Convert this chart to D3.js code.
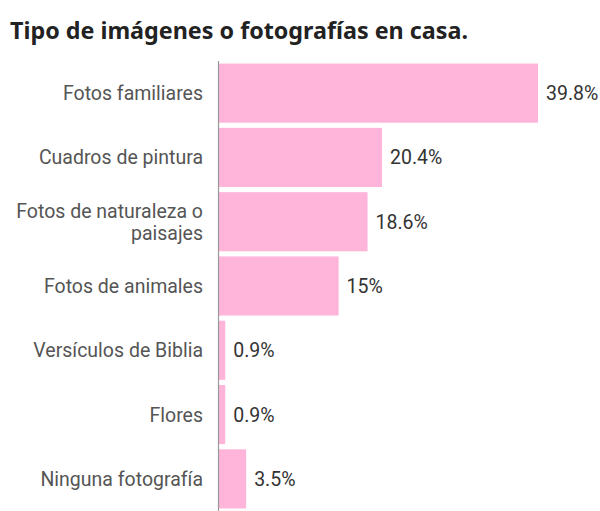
<!DOCTYPE html>
<html><head><meta charset="utf-8">
<script src="https://cdn.jsdelivr.net/npm/d3@7"></script>
<style>body{margin:0;background:#fff;}svg{display:block;}</style>
</head><body>
<svg id="c" width="600" height="511"></svg>
<script>
const categories = ["Fotos familiares","Cuadros de pintura","Fotos de naturaleza o paisajes","Fotos de animales","Versículos de Biblia","Flores","Ninguna fotografía"];
const values = [39.8,20.4,18.6,15,0.9,0.9,3.5];
const valueLabels = ["39.8%","20.4%","18.6%","15%","0.9%","0.9%","3.5%"];
const labelLines = [["Fotos familiares"],["Cuadros de pintura"],["Fotos de naturaleza o","paisajes"],["Fotos de animales"],["Versículos de Biblia"],["Flores"],["Ninguna fotografía"]];

const svg = d3.select("#c");
svg.append("text").attr("x",10).attr("y",39)
  .style("font-family","'Noto Sans', Inter, sans-serif").style("font-weight","700")
  .style("font-size","23.3px").style("fill","#222")
  .text("Tipo de imágenes o fotografías en casa.");

const x = d3.scaleLinear().domain([0,39.8]).range([218,538]);
const y = d3.scaleBand().domain(categories).range([61,511]).paddingInner(0.08).paddingOuter(0.04);

svg.selectAll("rect.bar").data(categories).join("rect").attr("class","bar")
  .attr("x",x(0)).attr("y",d=>y(d))
  .attr("width",(d,i)=>x(values[i])-x(0)).attr("height",y.bandwidth())
  .attr("fill","#ffb5d9");

svg.append("line").attr("x1",218.5).attr("x2",218.5).attr("y1",61).attr("y2",511)
  .attr("stroke","#999").attr("stroke-width",1.2);

const lab = svg.selectAll("text.lab").data(categories).join("text").attr("class","lab")
  .attr("text-anchor","end")
  .style("font-family","Roboto, sans-serif").style("font-size","19.5px").style("fill","#555");
lab.each(function(d,i){
  const lines = labelLines[i];
  const cy = y(d)+y.bandwidth()/2;
  const lh = 22;
  const t = d3.select(this);
  lines.forEach((l,j)=>{
    t.append("tspan").attr("x",203)
     .attr("y", cy + (j-(lines.length-1)/2)*lh + 7)
     .text(l);
  });
});

svg.selectAll("text.val").data(categories).join("text").attr("class","val")
  .attr("x",(d,i)=>x(values[i])+8).attr("y",d=>y(d)+y.bandwidth()/2+7)
  .style("font-family","Roboto, sans-serif").style("font-size","19.5px").style("fill","#333")
  .text((d,i)=>valueLabels[i]);
</script>
</body></html>
